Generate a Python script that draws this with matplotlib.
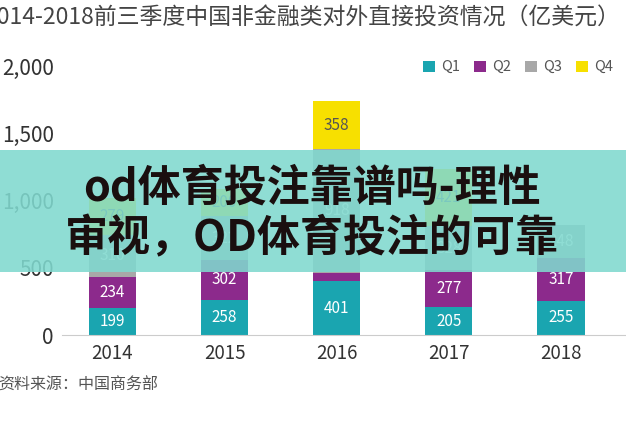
import matplotlib
matplotlib.use("Agg")
import matplotlib.pyplot as plt
from matplotlib.patches import Rectangle

plt.rcParams['font.family'] = ['Noto Sans CJK SC', 'DejaVu Sans']

years = ['2014', '2015', '2016', '2017', '2018']
q1 = [199, 258, 401, 205, 255]
q2 = [234, 302, 62, 277, 317]
q3 = [310, 322, 918, 328, 248]
q4 = [279, 200, 358, 421, 0]
series = [('Q1', q1, '#1aa5b0'), ('Q2', q2, '#8c2a8c'), ('Q3', q3, '#a8a8a8'), ('Q4', q4, '#f7e000')]
yticks = [0, 500, 1000, 1500, 2000]
ylabels = ['0', '500', '1,000', '1,500', '2,000']

W, H = 626, 423
fig = plt.figure(figsize=(W/100, H/100), dpi=100)
ax = fig.add_axes([62/W, 1-335/H, (W-62)/W, (335-66)/H])
x = list(range(len(years)))
bottom = [0]*5
for name, vals, col in series:
    ax.bar(x, vals, 0.42, bottom=bottom, color=col, label=name)
    for i, v in enumerate(vals):
        if v > 100:
            ax.text(i, bottom[i]+v/2, str(v), ha='center', va='center', fontsize=11,
                    color='white' if name != 'Q4' else '#555555')
    bottom = [b+v for b, v in zip(bottom, vals)]
ax.set_xlim(-0.45, 4.58)
ax.set_ylim(0, 2000)
ax.set_yticks(yticks)
ax.set_yticklabels(ylabels, fontsize=15, color='#333333')
ax.set_xticks(x)
ax.set_xticklabels(years, fontsize=13.5, color='#333333')
for s in ['top', 'right', 'left']:
    ax.spines[s].set_visible(False)
ax.spines['bottom'].set_color('#cccccc')
ax.tick_params(axis='y', length=0, pad=6)
ax.tick_params(axis='x', length=0, pad=6)
ax.legend(loc='upper right', bbox_to_anchor=(1.0, 1.07), ncol=4, frameon=False, fontsize=10.5,
          handlelength=0.8, handleheight=0.8, columnspacing=1.0, handletextpad=0.4, labelcolor='#555555')

fig.text(-16/W, 1-18/H, '2014-2018前三季度中国非金融类对外直接投资情况（亿美元）', fontsize=16.5,
         color='#444444', ha='left', va='center')
fig.text(-2/W, 1-385/H, '资料来源：中国商务部', fontsize=11.5, color='#555555', ha='left', va='center')

fig.patches.append(Rectangle((0, 1-272/H), 1, 122/H, transform=fig.transFigure,
                             facecolor='#80d9cf', alpha=0.88, zorder=5))
fig.text(312/W, 1-188/H, 'od体育投注靠谱吗-理性', fontsize=31, fontweight='bold', color='#1a0f0f',
         ha='center', va='center', zorder=6)
fig.text(312/W, 1-238/H, '审视，OD体育投注的可靠', fontsize=31, fontweight='bold', color='#1a0f0f',
         ha='center', va='center', zorder=6)
fig.savefig('out.png', dpi=100)
